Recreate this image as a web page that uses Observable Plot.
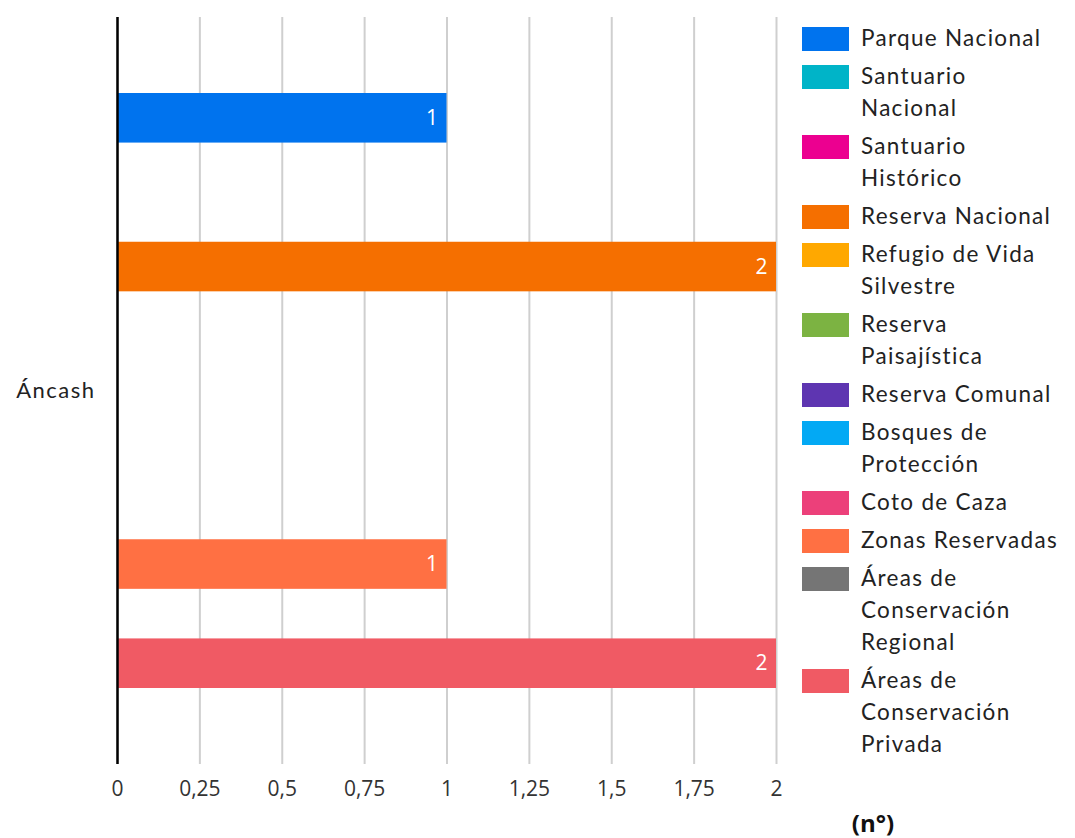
<!DOCTYPE html>
<html>
<head>
<meta charset="utf-8">
<script src="https://cdn.jsdelivr.net/npm/d3@7"></script>
<script src="https://cdn.jsdelivr.net/npm/@observablehq/plot@0.6"></script>
<style>
  html, body { margin: 0; padding: 0; background: #fff; }
  #wrap { position: relative; width: 1075px; height: 838px; }
  #legend { position: absolute; left: 802px; top: 22px; font-family: Lato, "Noto Sans", sans-serif; font-size: 22.5px; color: #222; }
  .item { display: flex; align-items: flex-start; margin-bottom: 6px; }
  .sw { width: 47px; height: 24px; margin-top: 5px; margin-right: 12px; flex: none; }
  .lbl { line-height: 32px; white-space: pre-line; letter-spacing: 1.3px; }
  #unit { position: absolute; left: 873px; top: 822px; transform: translate(-50%, -50%); font-family: "Open Sans", sans-serif; font-weight: 700; font-size: 24px; color: #111; }
</style>
</head>
<body>
<div id="wrap">
  <div id="chart"></div>
  <div id="legend"></div>
  <div id="unit">(n°)</div>
</div>
<script>
const categories = ["Áncash"];
const series = [
  "Parque Nacional",
  "Santuario Nacional",
  "Santuario Histórico",
  "Reserva Nacional",
  "Refugio de Vida Silvestre",
  "Reserva Paisajística",
  "Reserva Comunal",
  "Bosques de Protección",
  "Coto de Caza",
  "Zonas Reservadas",
  "Áreas de Conservación Regional",
  "Áreas de Conservación Privada"
];
const legendLabels = [
  "Parque Nacional",
  "Santuario\nNacional",
  "Santuario\nHistórico",
  "Reserva Nacional",
  "Refugio de Vida\nSilvestre",
  "Reserva\nPaisajística",
  "Reserva Comunal",
  "Bosques de\nProtección",
  "Coto de Caza",
  "Zonas Reservadas",
  "Áreas de\nConservación\nRegional",
  "Áreas de\nConservación\nPrivada"
];
const values = [1, 0, 0, 2, 0, 0, 0, 0, 0, 1, 0, 2];
const colors = [
  "#0073ee", "#00b4c8", "#ec0090", "#f56f00", "#ffa800", "#7cb342",
  "#5e35b1", "#03a9f4", "#ec407a", "#ff7043", "#757575", "#f05a64"
];
const xTicks = [0, 0.25, 0.5, 0.75, 1, 1.25, 1.5, 1.75, 2];

const data = series.map((s, i) => ({region: categories[0], series: s, value: values[i]}));
const nonzero = data.filter(d => d.value > 0);

const chart = Plot.plot({
  width: 1075,
  height: 838,
  marginLeft: 117,
  marginRight: 299,
  marginTop: 17,
  marginBottom: 74,
  style: {fontFamily: "Lato, 'Noto Sans', sans-serif", background: "white"},
  x: {domain: [0, 2], label: null},
  y: {domain: series, range: [93, 688], padding: 0, round: false, axis: null},
  color: {domain: series, range: colors},
  marks: [
    Plot.gridX(xTicks, {stroke: "#cfcfcf", strokeOpacity: 1, strokeWidth: 2}),
    Plot.barX(nonzero, {x: "value", y: "series", fill: "series"}),
    Plot.text(nonzero, {x: "value", y: "series", text: d => String(d.value), dx: -9, textAnchor: "end", fill: "white", fontSize: 21, fontFamily: "'Open Sans', sans-serif"}),
    Plot.ruleX([0], {stroke: "black", strokeWidth: 2.5}),
    Plot.axisX(xTicks, {tickSize: 0, tickPadding: 17, fontSize: 21, fontFamily: "'Open Sans', sans-serif", fill: "#333",
      tickFormat: d => String(d).replace(".", ",")}),
    Plot.text(categories, {frameAnchor: "left", dx: -22, textAnchor: "end", text: d => d, fontSize: 22, fill: "#222", style: "letter-spacing:1.5px"})
  ]
});
document.getElementById("chart").appendChild(chart);
chart.querySelectorAll("text").forEach(t => { if (t.textContent === categories[0]) t.style.letterSpacing = "1.5px"; });

const legend = document.getElementById("legend");
series.forEach((s, i) => {
  const item = document.createElement("div");
  item.className = "item";
  const sw = document.createElement("div");
  sw.className = "sw";
  sw.style.background = colors[i];
  const lbl = document.createElement("div");
  lbl.className = "lbl";
  lbl.textContent = legendLabels[i];
  item.appendChild(sw);
  item.appendChild(lbl);
  legend.appendChild(item);
});
</script>
</body>
</html>
